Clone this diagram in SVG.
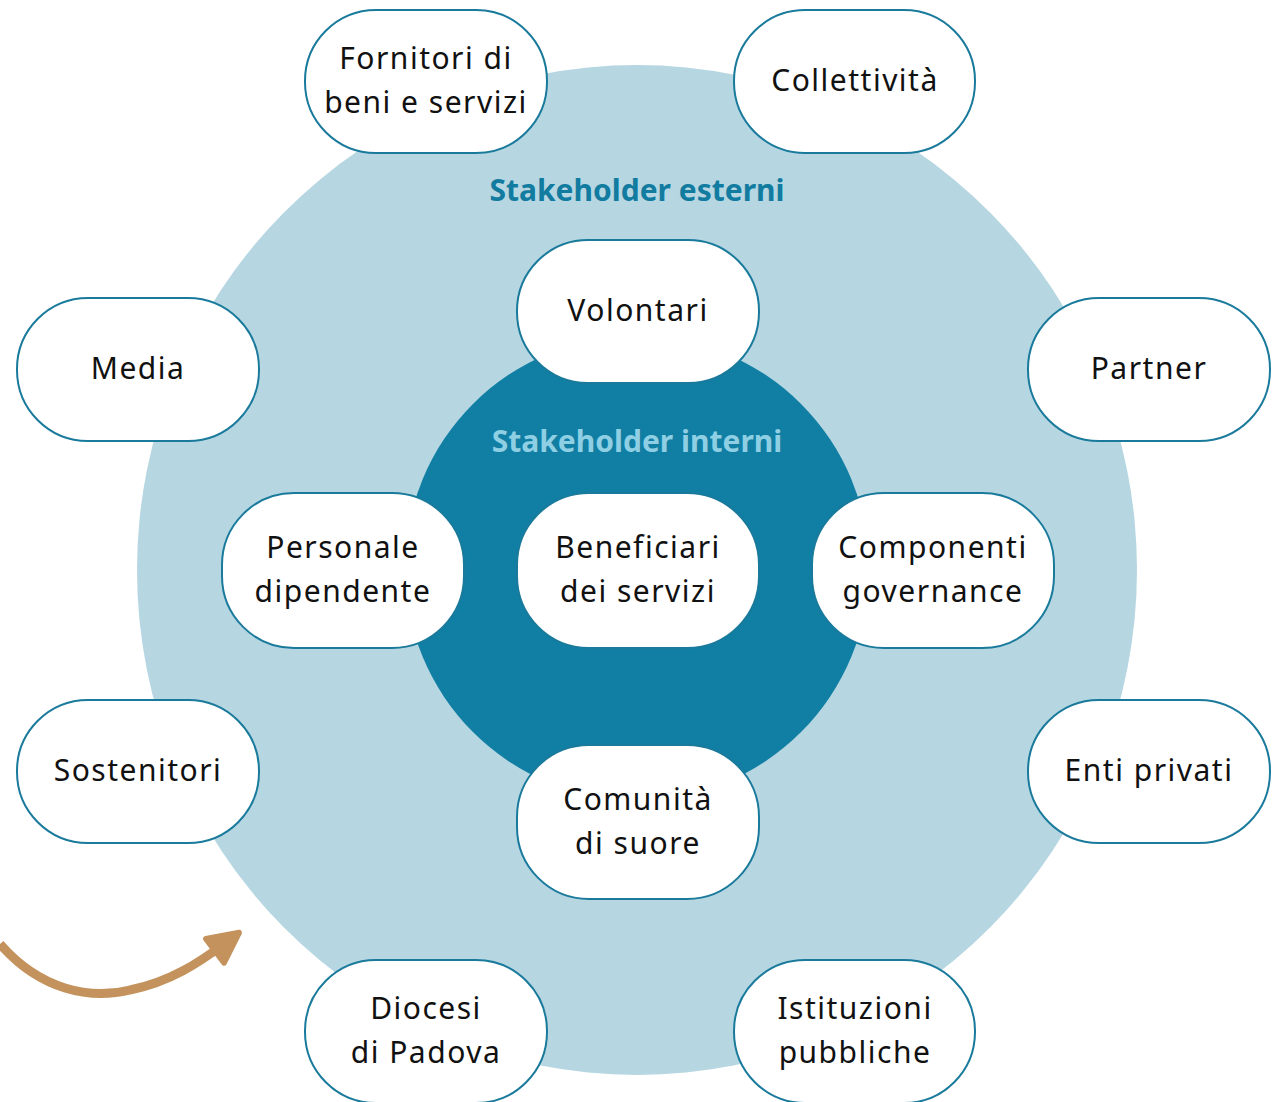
<svg xmlns="http://www.w3.org/2000/svg" width="1273" height="1102" viewBox="0 0 1273 1102">
<style>
.node rect{fill:#ffffff;stroke:#1a7a9c;stroke-width:2}
.node text{font-family:"Noto Sans","Open Sans",sans-serif;font-size:30px;fill:#111111;text-anchor:middle;letter-spacing:1.5px}
.title{font-family:"Noto Sans","Open Sans",sans-serif;font-size:30px;font-weight:bold;text-anchor:middle}
</style>
<defs>
<marker id="ah" viewBox="0 0 10 10" refX="4" refY="5" markerWidth="4.2" markerHeight="4.2" orient="auto" markerUnits="strokeWidth">
<path d="M1,1 L9,5 L1,9 z" fill="#c4935d" stroke="#c4935d" stroke-width="1.5" stroke-linejoin="round"/>
</marker>
</defs>
<rect width="1273" height="1102" fill="#ffffff"/>
<ellipse cx="637" cy="570" rx="500" ry="505" fill="#b6d7e2"/>
<circle cx="637" cy="568" r="232" fill="#117ea3"/>
<text class="title" x="637" y="201" fill="#127ba0">Stakeholder esterni</text>
<text class="title" x="637" y="452" fill="#8fcfe4">Stakeholder interni</text>
<g id="connectors">
<path d="M0,944 C40,990 90,1000 130,990 C170,982 200,962 224,944" fill="none" stroke="#c4935d" stroke-width="9" marker-end="url(#ah)"/>
</g>
<g id="n-fornitori" class="node"><rect x="305" y="10" width="242" height="143" rx="71"/><text x="426" y="69">Fornitori di</text><text x="426" y="113">beni e servizi</text></g>
<g id="n-collettivita" class="node"><rect x="734" y="10" width="241" height="143" rx="71"/><text x="855" y="91">Collettività</text></g>
<g id="n-media" class="node"><rect x="17" y="298" width="242" height="143" rx="71"/><text x="138" y="379">Media</text></g>
<g id="n-partner" class="node"><rect x="1028" y="298" width="242" height="143" rx="71"/><text x="1149" y="379">Partner</text></g>
<g id="n-volontari" class="node"><rect x="517" y="240" width="242" height="143" rx="71"/><text x="638" y="321">Volontari</text></g>
<g id="n-personale" class="node"><rect x="222" y="493" width="242" height="155" rx="72"/><text x="343" y="558">Personale</text><text x="343" y="602">dipendente</text></g>
<g id="n-beneficiari" class="node"><rect x="517" y="493" width="242" height="155" rx="72"/><text x="638" y="558">Beneficiari</text><text x="638" y="602">dei servizi</text></g>
<g id="n-componenti" class="node"><rect x="812" y="493" width="242" height="155" rx="72"/><text x="933" y="558">Componenti</text><text x="933" y="602">governance</text></g>
<g id="n-sostenitori" class="node"><rect x="17" y="700" width="242" height="143" rx="71"/><text x="138" y="781">Sostenitori</text></g>
<g id="n-enti" class="node"><rect x="1028" y="700" width="242" height="143" rx="71"/><text x="1149" y="781">Enti privati</text></g>
<g id="n-comunita" class="node"><rect x="517" y="745" width="242" height="154" rx="72"/><text x="638" y="810">Comunità</text><text x="638" y="854">di suore</text></g>
<g id="n-diocesi" class="node"><rect x="305" y="960" width="242" height="143" rx="71"/><text x="426" y="1019">Diocesi</text><text x="426" y="1063">di Padova</text></g>
<g id="n-istituzioni" class="node"><rect x="734" y="960" width="241" height="143" rx="71"/><text x="855" y="1019">Istituzioni</text><text x="855" y="1063">pubbliche</text></g>
</svg>
